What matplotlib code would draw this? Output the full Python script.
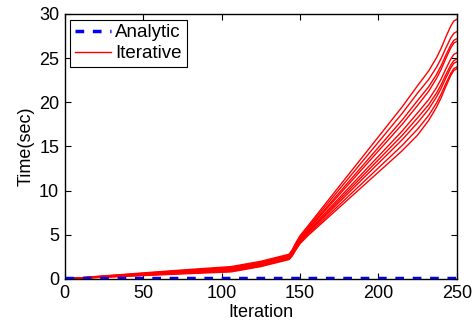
import matplotlib
matplotlib.use("Agg")
import matplotlib.pyplot as plt

plt.rcParams['font.family'] = ['Liberation Sans', 'DejaVu Sans']

iterations = [0, 20, 40, 60, 80, 106, 125, 143, 145, 147, 150, 155, 175, 200,
              215, 225, 232, 237, 240, 243, 246, 248, 250]

iterative_runs = [
    [0.0, 0.28, 0.55, 0.82, 1.08, 1.40, 2.00, 2.80, 3.30, 4.00, 4.90, 6.00, 10.50, 16.10, 19.46, 21.90, 23.55, 25.05, 26.14, 27.41, 28.60, 29.20, 29.4],
    [0.0, 0.26, 0.51, 0.77, 1.01, 1.31, 1.91, 2.71, 3.20, 3.88, 4.77, 5.84, 10.14, 15.50, 18.72, 21.06, 22.59, 23.97, 24.98, 26.16, 27.26, 27.81, 28.0],
    [0.0, 0.24, 0.48, 0.71, 0.94, 1.22, 1.82, 2.62, 3.09, 3.76, 4.63, 5.67, 9.78, 14.90, 17.97, 20.22, 21.76, 23.15, 24.16, 25.35, 26.45, 27.01, 27.2],
    [0.0, 0.23, 0.45, 0.68, 0.89, 1.16, 1.76, 2.56, 3.02, 3.68, 4.54, 5.56, 9.54, 14.50, 17.48, 19.66, 21.25, 22.70, 23.75, 24.98, 26.13, 26.70, 26.9],
    [0.0, 0.21, 0.42, 0.62, 0.82, 1.07, 1.67, 2.47, 2.92, 3.56, 4.41, 5.40, 9.18, 13.90, 16.73, 18.82, 20.31, 21.67, 22.65, 23.80, 24.87, 25.42, 25.6],
    [0.0, 0.20, 0.39, 0.59, 0.77, 1.01, 1.61, 2.41, 2.85, 3.48, 4.32, 5.29, 8.94, 13.50, 16.23, 18.26, 19.72, 21.05, 22.01, 23.14, 24.19, 24.72, 24.9],
    [0.0, 0.19, 0.37, 0.55, 0.73, 0.95, 1.55, 2.35, 2.78, 3.40, 4.23, 5.18, 8.70, 13.10, 15.74, 17.70, 19.22, 20.60, 21.60, 22.77, 23.86, 24.41, 24.6],
    [0.0, 0.17, 0.34, 0.50, 0.67, 0.87, 1.47, 2.27, 2.68, 3.30, 4.11, 5.03, 8.39, 12.58, 15.10, 16.97, 18.52, 19.92, 20.94, 22.14, 23.25, 23.81, 24.0],
    [0.0, 0.16, 0.31, 0.46, 0.61, 0.80, 1.40, 2.20, 2.60, 3.20, 4.00, 4.90, 8.10, 12.10, 14.50, 16.30, 17.95, 19.45, 20.54, 21.81, 23.00, 23.60, 23.8],
]

analytic_iter = [0, 50, 100, 150, 200, 250]
analytic_time = [0.1, 0.1, 0.1, 0.1, 0.1, 0.1]

fig = plt.figure(figsize=(4.73, 3.24), dpi=100)
ax = fig.add_axes([0.137, 0.139, 0.829, 0.818])

ax.plot(analytic_iter, analytic_time, color='#0000ff', linestyle='--',
        linewidth=2.5, dashes=(2.5, 2.5), label='Analytic', zorder=3)
for i, run in enumerate(iterative_runs):
    ax.plot(iterations, run, color='#ff0000', linewidth=1.0,
            label='Iterative' if i == 0 else None, zorder=2)

ax.set_xlim(0, 250)
ax.set_ylim(0, 30)
ax.set_xticks([0, 50, 100, 150, 200, 250])
ax.set_yticks([0, 5, 10, 15, 20, 25, 30])
ax.tick_params(direction='in', top=True, right=True, labelsize=13, length=4,
               width=0.8, pad=4)
for s in ax.spines.values():
    s.set_linewidth(1.0)
    s.set_color('black')
ax.set_xlabel('Iteration', fontsize=13, labelpad=2)
ax.set_ylabel('Time(sec)', fontsize=13, labelpad=3)

leg = ax.legend(loc='upper left', fontsize=13.5, frameon=True, fancybox=False,
                edgecolor='black', framealpha=1, handlelength=1.9,
                borderpad=0.25, labelspacing=0.2, handletextpad=0.25,
                borderaxespad=0.3)
leg.get_frame().set_linewidth(0.8)

fig.savefig('out.png', dpi=100)
